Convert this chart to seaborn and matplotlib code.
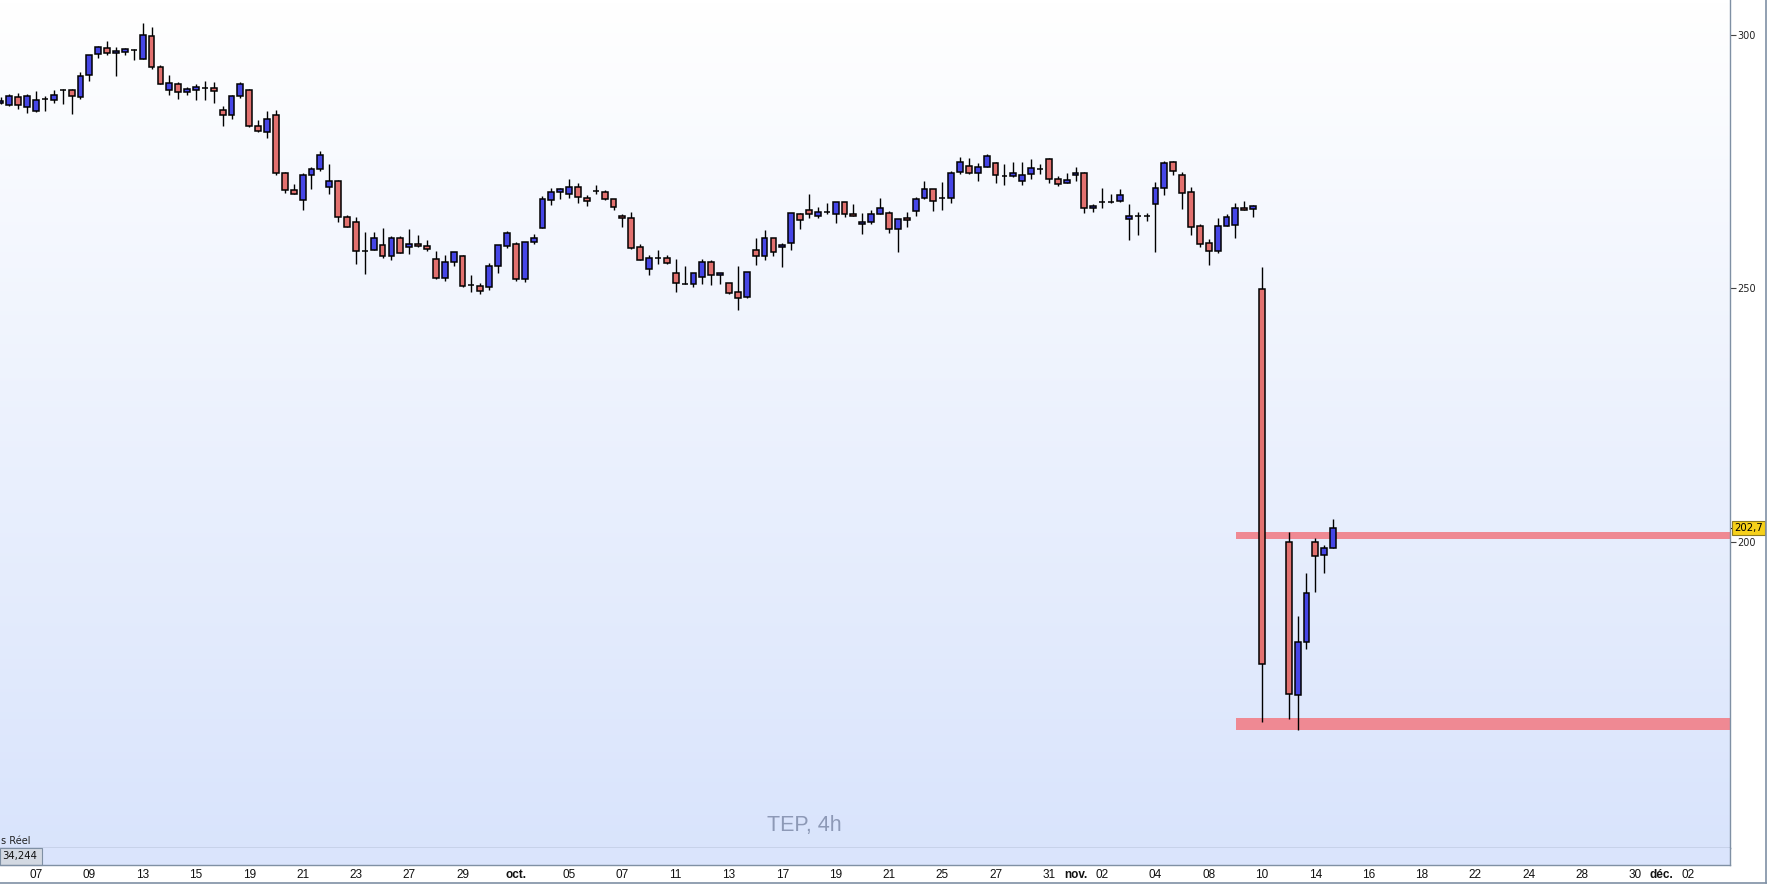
import matplotlib
import numpy as np
import pandas as pd
import seaborn as sns
from matplotlib import font_manager
from matplotlib.lines import Line2D
from matplotlib.patches import Rectangle
from matplotlib.transforms import blended_transform_factory

matplotlib.use("Agg")
import matplotlib.pyplot as plt

# bar number of each 4h candle (two slots empty after the crash candle)
bar_slots = list(range(-4, 139)) + list(range(141, 147))

opens = [
    286.45, 286.1, 287.6, 285.8, 285.0, 287.2, 287.0, 289.15, 289.0, 287.6,
    292.0, 296.1, 297.3, 296.3, 296.5, 297.0, 295.1, 299.7, 293.55, 289.0,
    290.2, 288.6, 289.0, 289.5, 289.4, 285.1, 284.1, 287.8, 289.0, 282.05,
    280.7, 284.2, 272.8, 269.3, 267.3, 272.3, 273.45, 269.9, 271.1, 264.0,
    263.0, 257.4, 257.5, 258.5, 256.3, 259.85, 258.1, 258.7, 258.3, 255.7,
    252.1, 255.1, 256.3, 250.7, 250.5, 250.3, 254.45, 258.3, 258.7, 251.9,
    259.05, 261.8, 267.3, 268.9, 268.5, 269.9, 267.7, 269.1, 268.9, 267.5,
    264.2, 263.8, 258.1, 253.7, 256.0, 255.9, 252.95, 250.9, 250.8, 252.2,
    255.1, 252.55, 251.0, 249.2, 248.2, 257.5, 256.3, 259.85, 258.1, 258.9,
    264.6, 265.4, 264.2, 265.0, 264.6, 266.9, 264.6, 262.6, 263.0, 264.6,
    264.8, 261.6, 263.8, 265.2, 267.7, 269.5, 267.8, 267.7, 272.9, 274.0,
    272.7, 273.8, 274.6, 272.2, 272.1, 271.1, 272.5, 273.5, 275.4, 271.5,
    270.7, 272.3, 272.7, 265.8, 266.9, 266.9, 267.1, 263.6, 264.3, 264.3,
    266.55, 269.7, 274.8, 272.3, 268.9, 262.2, 258.9, 257.3, 262.2, 262.4,
    265.8, 265.6, 249.8,
    199.9, 169.8, 180.2, 199.9, 197.4, 198.9,
]
highs = [
    287.6, 288.3, 288.5, 288.2, 288.9, 287.8, 289.0, 289.3, 289.2, 292.6,
    296.05, 297.7, 298.7, 297.5, 297.4, 297.2, 302.3, 301.5, 293.95, 292.0,
    290.6, 289.7, 290.2, 290.8, 290.6, 285.9, 288.0, 290.6, 289.2, 283.2,
    285.0, 285.1, 273.0, 270.5, 272.8, 273.8, 277.0, 274.5, 271.3, 264.4,
    264.0, 261.1, 261.0, 261.8, 260.2, 260.2, 261.6, 260.4, 259.45, 257.3,
    256.5, 257.1, 256.5, 252.55, 251.1, 255.05, 258.5, 261.2, 259.05, 259.05,
    260.6, 268.1, 269.7, 269.7, 271.5, 270.7, 268.3, 270.3, 269.3, 267.5,
    264.6, 265.0, 258.7, 256.5, 257.5, 256.5, 255.7, 254.3, 252.95, 255.7,
    255.5, 252.95, 251.0, 254.3, 253.3, 259.85, 261.4, 259.85, 258.9, 264.8,
    264.8, 268.5, 266.0, 266.75, 266.9, 266.9, 266.55, 264.8, 265.4, 267.7,
    265.2, 263.6, 265.0, 267.9, 271.1, 269.5, 270.9, 273.05, 275.8, 275.6,
    274.6, 276.4, 274.8, 274.4, 274.8, 274.8, 275.4, 274.4, 275.6, 272.1,
    272.7, 273.8, 272.9, 266.55, 269.7, 268.5, 269.5, 266.55, 265.0, 264.8,
    270.9, 275.0, 275.0, 272.9, 269.9, 262.6, 259.65, 263.8, 264.6, 266.75,
    267.1, 266.35, 254.1,
    201.9, 185.4, 193.9, 200.7, 199.4, 204.5,
]
lows = [
    286.3, 286.0, 285.3, 284.6, 284.8, 285.0, 286.45, 286.4, 284.4, 287.2,
    290.9, 295.3, 295.9, 291.9, 295.9, 294.9, 295.1, 293.2, 290.2, 288.0,
    287.2, 288.0, 287.0, 287.1, 286.6, 282.05, 283.4, 287.4, 281.85, 280.7,
    279.7, 272.4, 268.7, 268.5, 265.5, 269.6, 273.2, 268.6, 263.0, 262.0,
    254.85, 252.9, 257.5, 255.9, 255.5, 256.9, 256.7, 258.1, 257.3, 251.9,
    251.5, 254.3, 250.3, 249.3, 248.9, 249.7, 253.1, 257.9, 251.5, 251.3,
    258.7, 261.8, 266.5, 267.5, 267.7, 266.7, 266.2, 268.5, 267.3, 265.4,
    262.0, 257.7, 255.5, 252.55, 254.7, 254.7, 249.3, 250.9, 250.3, 250.8,
    250.6, 250.8, 248.8, 245.65, 248.0, 254.5, 255.5, 256.3, 254.1, 257.5,
    261.6, 263.8, 263.8, 264.6, 262.8, 264.0, 264.2, 260.6, 262.6, 264.6,
    260.8, 257.1, 262.0, 264.2, 267.5, 265.2, 265.4, 266.75, 272.5, 272.5,
    271.1, 273.8, 270.7, 270.3, 271.9, 270.3, 271.5, 272.5, 270.7, 270.1,
    270.7, 271.1, 264.8, 265.0, 265.8, 266.75, 266.9, 259.45, 260.4, 263.2,
    257.1, 268.3, 272.3, 265.6, 260.4, 258.1, 254.5, 256.9, 262.2, 260.0,
    265.4, 264.0, 164.6,
    165.2, 162.9, 179.0, 190.1, 193.95, 198.9,
]
closes = [
    286.9, 287.8, 286.1, 287.8, 287.05, 287.2, 288.0, 289.15, 287.8, 291.8,
    295.9, 297.5, 296.3, 296.7, 297.1, 297.0, 299.9, 293.55, 290.2, 290.4,
    288.6, 289.2, 289.6, 289.5, 288.8, 284.1, 287.8, 290.2, 282.05, 280.9,
    283.4, 272.8, 269.3, 268.5, 272.3, 273.45, 276.2, 271.1, 264.0, 262.0,
    257.3, 257.4, 260.0, 256.3, 259.85, 256.9, 258.7, 258.3, 257.7, 252.1,
    255.1, 257.1, 250.5, 250.7, 249.5, 254.45, 258.5, 260.8, 251.9, 259.05,
    259.85, 267.5, 268.9, 269.5, 269.9, 267.9, 267.1, 269.1, 267.5, 266.0,
    263.8, 258.0, 255.5, 255.9, 256.0, 254.9, 251.0, 250.9, 252.95, 255.1,
    252.55, 252.95, 249.0, 248.0, 253.3, 256.3, 259.85, 257.1, 258.5, 264.8,
    263.4, 264.6, 265.0, 265.0, 266.9, 264.6, 264.2, 263.0, 264.6, 265.8,
    261.6, 263.6, 263.4, 267.5, 269.5, 267.1, 267.8, 272.7, 274.8, 272.7,
    273.8, 276.0, 272.3, 272.2, 272.7, 272.3, 273.6, 273.5, 271.5, 270.5,
    271.3, 272.7, 265.8, 266.15, 266.9, 266.9, 268.3, 264.2, 264.3, 264.3,
    269.7, 274.6, 273.05, 268.7, 262.0, 258.7, 257.3, 262.2, 264.0, 265.8,
    265.4, 266.15, 175.9,
    170.0, 180.2, 189.9, 197.2, 198.9, 202.7,
]

# support / resistance zones drawn from bar 135.1 to the right edge
zone_start = 135.1
zone_lows = [200.65, 162.95]
zone_highs = [201.9, 165.3]

price_ticks = [200, 250, 300]
date_slots = [0, 6, 12, 18, 24, 30, 36, 42, 48, 54, 60, 66, 72, 78, 84, 90, 96,
              102, 108, 114, 117, 120, 126, 132, 138, 144, 150, 156, 162, 168,
              174, 180, 183, 186]
date_labels = ["07", "09", "13", "15", "19", "21", "23", "27", "29", "oct.",
               "05", "07", "11", "13", "17", "19", "21", "25", "27", "31",
               "nov.", "02", "04", "08", "10", "14", "16", "18", "22", "24",
               "28", "30", "déc.", "02"]

RED = "#e2716f"
BLUE = "#4646e6"
ZONE = "#ef8993"
FRAME = "#7f90a4"

sns.set_theme(style="white")
plt.rcParams["font.family"] = ["DejaVu Sans"]

names = {f.name for f in font_manager.fontManager.ttflist}
date_font = "Liberation Sans Narrow" if "Liberation Sans Narrow" in names else "Liberation Sans"

W, H = 1767, 885
plot_right = 1730
main_bottom = 848
sub_bottom = 865
x_left, x_right = -4.06, 190.67
y_low, y_high = 139.7, 306.8

fig = plt.figure(figsize=(W / 100, H / 100), dpi=100)
fig.patch.set_facecolor("white")
ax = fig.add_axes([0, 1 - main_bottom / H, plot_right / W, main_bottom / H])
sub = fig.add_axes([0, 1 - sub_bottom / H, plot_right / W, (sub_bottom - main_bottom) / H])

# background gradient white -> light blue
grad = np.linspace(0, 1, 256)[:, None, None]
top_c = np.array([1.0, 1.0, 1.0])
bot_c = np.array([0.851, 0.894, 0.988])
img = top_c + (bot_c - top_c) * grad
ax.imshow(img, extent=[0, 1, 0, 1], transform=ax.transAxes, aspect="auto", zorder=0)

df = pd.DataFrame({"slot": bar_slots, "open": opens, "high": highs, "low": lows, "close": closes})
df["up"] = df["close"] >= df["open"]
colors = np.where(df["up"], BLUE, RED)

for lo, hi in zip(zone_lows, zone_highs):
    ax.axhspan(lo, hi, xmin=(zone_start - x_left) / (x_right - x_left), xmax=1,
               color=ZONE, lw=0, zorder=1)

ax.vlines(df["slot"], df["low"], df["high"], color="black", lw=1.0, zorder=2)
ax.bar(df["slot"], (df["close"] - df["open"]).abs(),
       bottom=df[["open", "close"]].min(axis=1), width=0.66,
       color=colors, edgecolor="black", linewidth=1.1, zorder=3)

ax.set_xlim(x_left, x_right)
ax.set_ylim(y_low, y_high)
ax.set_xticks([])
ax.yaxis.tick_right()
ax.set_yticks(price_ticks)
ax.set_yticklabels([str(t) for t in price_ticks])
ax.tick_params(axis="y", right=True, left=False, length=4, width=0.8, color="#444444",
               pad=1.5, labelsize=7, labelcolor="#222222")
for side in ["top", "left"]:
    ax.spines[side].set_visible(False)
for side in ["right", "bottom"]:
    ax.spines[side].set_color(FRAME)
    ax.spines[side].set_linewidth(1.0)

# last price marker
trans = blended_transform_factory(ax.transAxes, ax.transData)
last = closes[-1]
ax.plot([1, 1 + 4 / plot_right], [last, last], transform=trans, color="black", lw=0.8, clip_on=False)
ax.text(1 + 4 / plot_right, last, f"{last:.1f}".replace(".", ","), transform=trans,
        ha="left", va="center", fontsize=7.3, color="black", clip_on=False, zorder=6,
        bbox=dict(boxstyle="square,pad=0.18", fc="#f6d01a", ec="#8c7b22", lw=0.8))

ax.text(804 / plot_right, (main_bottom - 825) / main_bottom, "TEP, 4h", transform=ax.transAxes,
        ha="center", va="center", fontsize=15.5, color="#8d99b6",
        family=["Liberation Sans", "DejaVu Sans"])
ax.text(1 / plot_right, 7 / main_bottom, "s Réel", transform=ax.transAxes,
        ha="left", va="center", fontsize=7, color="#222222")

# lower strip with the value box and the date scale
sub.set_facecolor("#dae4fc")
sub.set_xlim(x_left, x_right)
sub.set_ylim(0, 1)
sub.set_yticks([])
sub.set_xticks(date_slots)
sub.set_xticklabels(date_labels)
sub.tick_params(axis="x", length=0, pad=3, labelsize=8.5, labelcolor="#111111")
for lab in sub.get_xticklabels():
    lab.set_family([date_font, "DejaVu Sans"])
    if lab.get_text().endswith("."):
        lab.set_fontweight("bold")
for side in ["top", "left"]:
    sub.spines[side].set_visible(False)
for side in ["right", "bottom"]:
    sub.spines[side].set_color(FRAME)
    sub.spines[side].set_linewidth(1.0)
sub.add_patch(Rectangle((0, 0), 42 / plot_right, 1, transform=sub.transAxes,
                        fc="#d3d9e2", ec=FRAME, lw=0.8, clip_on=False))
sub.text(20 / plot_right, 0.5, "34,244", transform=sub.transAxes, ha="center",
         va="center", fontsize=7.3, color="#111111")

fig.add_artist(Line2D([0, 1], [1 - 883 / H] * 2, transform=fig.transFigure, color=FRAME, lw=1.2))
fig.add_artist(Line2D([1765.5 / W] * 2, [1 - 883 / H, 1], transform=fig.transFigure, color=FRAME, lw=1.2))

fig.savefig("out.png", dpi=100)
